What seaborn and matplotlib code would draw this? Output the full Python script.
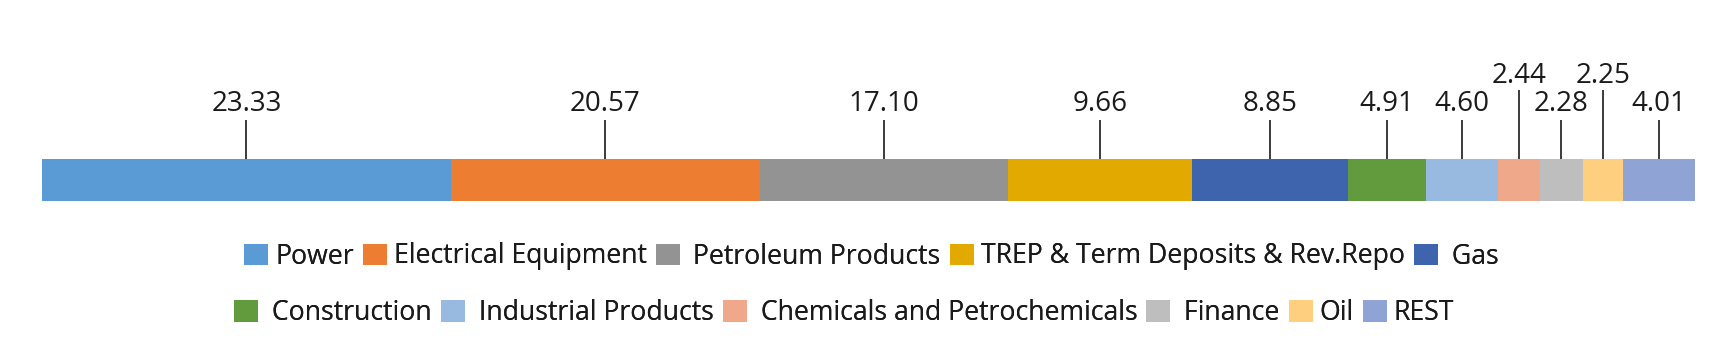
import matplotlib
matplotlib.use("Agg")
import matplotlib.pyplot as plt
import matplotlib.transforms as mtransforms
from matplotlib.patches import Patch
import numpy as np
import pandas as pd
import seaborn as sns

# ---- data ----
sectors = ["Power", "Electrical Equipment", "Petroleum Products",
           "TREP & Term Deposits & Rev.Repo", "Gas", "Construction",
           "Industrial Products", "Chemicals and Petrochemicals", "Finance",
           "Oil", "REST"]
# printed data labels
value_labels = ["23.33", "20.57", "17.10", "9.66", "8.85", "4.91",
                "4.60", "2.44", "2.28", "2.25", "4.01"]
# segment lengths as drawn in the bar (share of full bar, %)
segment_widths = [24.74, 18.69, 15.00, 11.13, 9.44, 4.72,
                  4.36, 2.54, 2.60, 2.42, 4.36]
# legend texts as displayed (with their leading spaces)
legend_texts = ["Power", "Electrical Equipment", " Petroleum Products",
                "TREP & Term Deposits & Rev.Repo", " Gas", " Construction",
                " Industrial Products", " Chemicals and Petrochemicals",
                " Finance", "Oil", "REST"]
colors = ["#5B9BD5", "#ED7D31", "#939393", "#E2AA00", "#3D64AD", "#629B3E",
          "#98B9E0", "#F0A88A", "#BEBEBE", "#FFCF80", "#8FA3D4"]

# ---- figure ----
sns.set_theme(style="white")
plt.rcParams["font.family"] = ["Open Sans", "DejaVu Sans"]

W, H = 1735, 359
fig = plt.figure(figsize=(W / 100, H / 100), dpi=100)
fig.patch.set_facecolor("white")

bar_left, bar_right, bar_top, bar_bottom = 42, 1695, 159, 201
ax = fig.add_axes([bar_left / W, (H - bar_bottom) / H,
                   (bar_right - bar_left) / W, (bar_bottom - bar_top) / H])

cum = np.cumsum(segment_widths)
df = pd.DataFrame({"sector": sectors, "end": cum, "row": ["all"] * len(sectors)})
palette = dict(zip(sectors, colors))
sns.barplot(data=df, x="end", y="row", hue="sector",
            hue_order=sectors[::-1], palette=palette, dodge=False,
            width=1.0, saturation=1, orient="h", legend=False,
            linewidth=0, ax=ax)

ax.set_xlim(0, cum[-1])
ax.set_ylim(0.5, -0.5)
ax.axis("off")

# ---- leader lines and data labels ----
trans = mtransforms.blended_transform_factory(ax.transData, ax.transAxes)
raised = {7, 9}
px = bar_bottom - bar_top
starts = np.concatenate([[0], cum[:-1]])
centers = starts + np.array(segment_widths) / 2
for i, (c, lab) in enumerate(zip(centers, value_labels)):
    if i in raised:
        line_top, base = 90, 83
    else:
        line_top, base = 120, 111
    ytop = 1 + (bar_top - line_top) / px
    ybase = 1 + (bar_top - base) / px
    ax.plot([c, c], [1, ytop], color="#1a1a1a", lw=1.2, transform=trans,
            clip_on=False, solid_capstyle="butt")
    ax.text(c, ybase, lab, transform=trans, ha="center", va="baseline",
            fontsize=20, color="#1a1a1a", clip_on=False)

# ---- legend in two rows ----
handles = [Patch(facecolor=col, edgecolor="none") for col in colors]
rows = [(range(0, 5), 244, 256.5), (range(5, 11), 234, 313)]
fs = 19.2
fs_px = fs * 100 / 72
for idx, x0, yc in rows:
    leg = fig.legend([handles[i] for i in idx], [legend_texts[i] for i in idx],
                     loc="center left", bbox_to_anchor=(x0 / W, 1 - yc / H),
                     ncol=len(idx), frameon=False, fontsize=fs,
                     handlelength=24 / fs_px, handleheight=23 / fs_px,
                     handletextpad=7 / fs_px, columnspacing=9 / fs_px,
                     borderpad=0, borderaxespad=0, labelcolor="#1a1a1a")
    fig.add_artist(leg)

fig.savefig("out.png", dpi=100, facecolor="white")
